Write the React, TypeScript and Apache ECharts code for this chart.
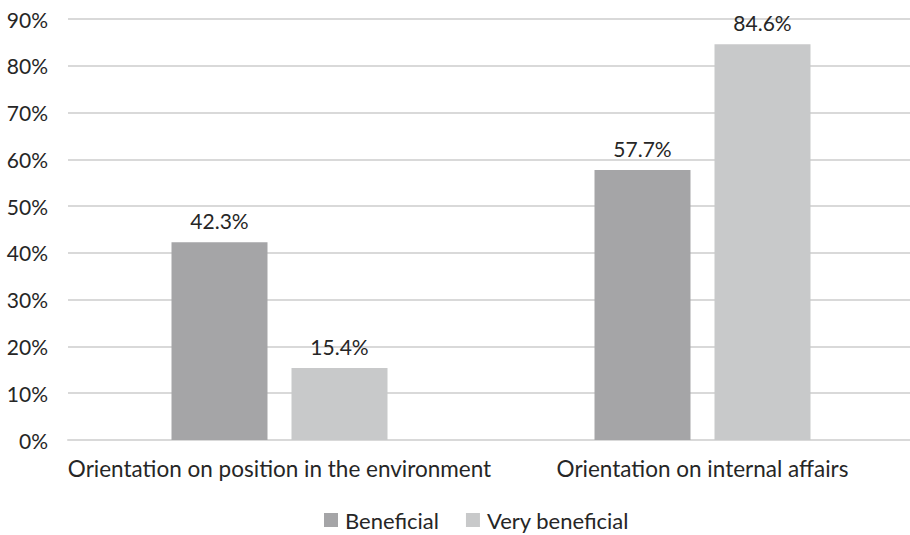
import React, { useEffect, useRef } from "react";
import * as echarts from "echarts";

const categories = ["Orientation on position in the environment", "Orientation on internal affairs"];
const beneficial = [42.3, 57.7];
const veryBeneficial = [15.4, 84.6];
const seriesNames = ["Beneficial", "Very beneficial"];

export default function App() {
  const ref = useRef<HTMLDivElement>(null);
  useEffect(() => {
    if (!ref.current) return;
    const chart = echarts.init(ref.current, undefined, { renderer: "svg" });
    const font = "Lato, sans-serif";
    const txt = "#262626";
    const label = {
      show: true,
      position: "top",
      distance: 11,
      formatter: (p: any) => p.value.toFixed(1) + "%",
      color: txt,
      fontSize: 21,
      fontFamily: font,
    };
    chart.setOption({
      animation: false,
      textStyle: { fontFamily: font },
      grid: { left: 68, right: 0, top: 19, bottom: 95, containLabel: false },
      legend: {
        data: seriesNames,
        bottom: -1,
        left: 319,
        itemWidth: 14,
        itemHeight: 14,
        itemGap: 27,
        icon: "rect",
        textStyle: { color: txt, fontSize: 22, fontFamily: font, padding: [0, 0, 0, 2] },
      },
      xAxis: {
        type: "category",
        data: categories,
        axisLine: { show: true, lineStyle: { color: "#d9d9d9", width: 2 } },
        axisTick: { show: false },
        axisLabel: { color: txt, fontSize: 22.5, fontFamily: font, margin: 17, interval: 0 },
      },
      yAxis: {
        type: "value",
        min: 0,
        max: 90,
        interval: 10,
        axisLine: { show: false },
        axisTick: { show: false },
        splitLine: { lineStyle: { color: "#d9d9d9", width: 2 } },
        axisLabel: {
          formatter: "{value}%",
          color: txt,
          fontSize: 21,
          fontFamily: font,
          margin: 20,
        },
      },
      series: [
        {
          name: seriesNames[0],
          type: "bar",
          data: beneficial,
          barWidth: 96,
          barGap: "25%",
          itemStyle: { color: "#a5a5a7" },
          label,
        },
        {
          name: seriesNames[1],
          type: "bar",
          data: veryBeneficial,
          barWidth: 96,
          barGap: "25%",
          itemStyle: { color: "#c8c9ca" },
          label,
        },
      ],
    });
    return () => chart.dispose();
  }, []);
  return (
    <div style={{ position: "fixed", left: 0, top: 0, width: 910, height: 535, overflow: "hidden", background: "#fff" }}>
      <div ref={ref} style={{ width: 914, height: 535 }} />
    </div>
  );
}
